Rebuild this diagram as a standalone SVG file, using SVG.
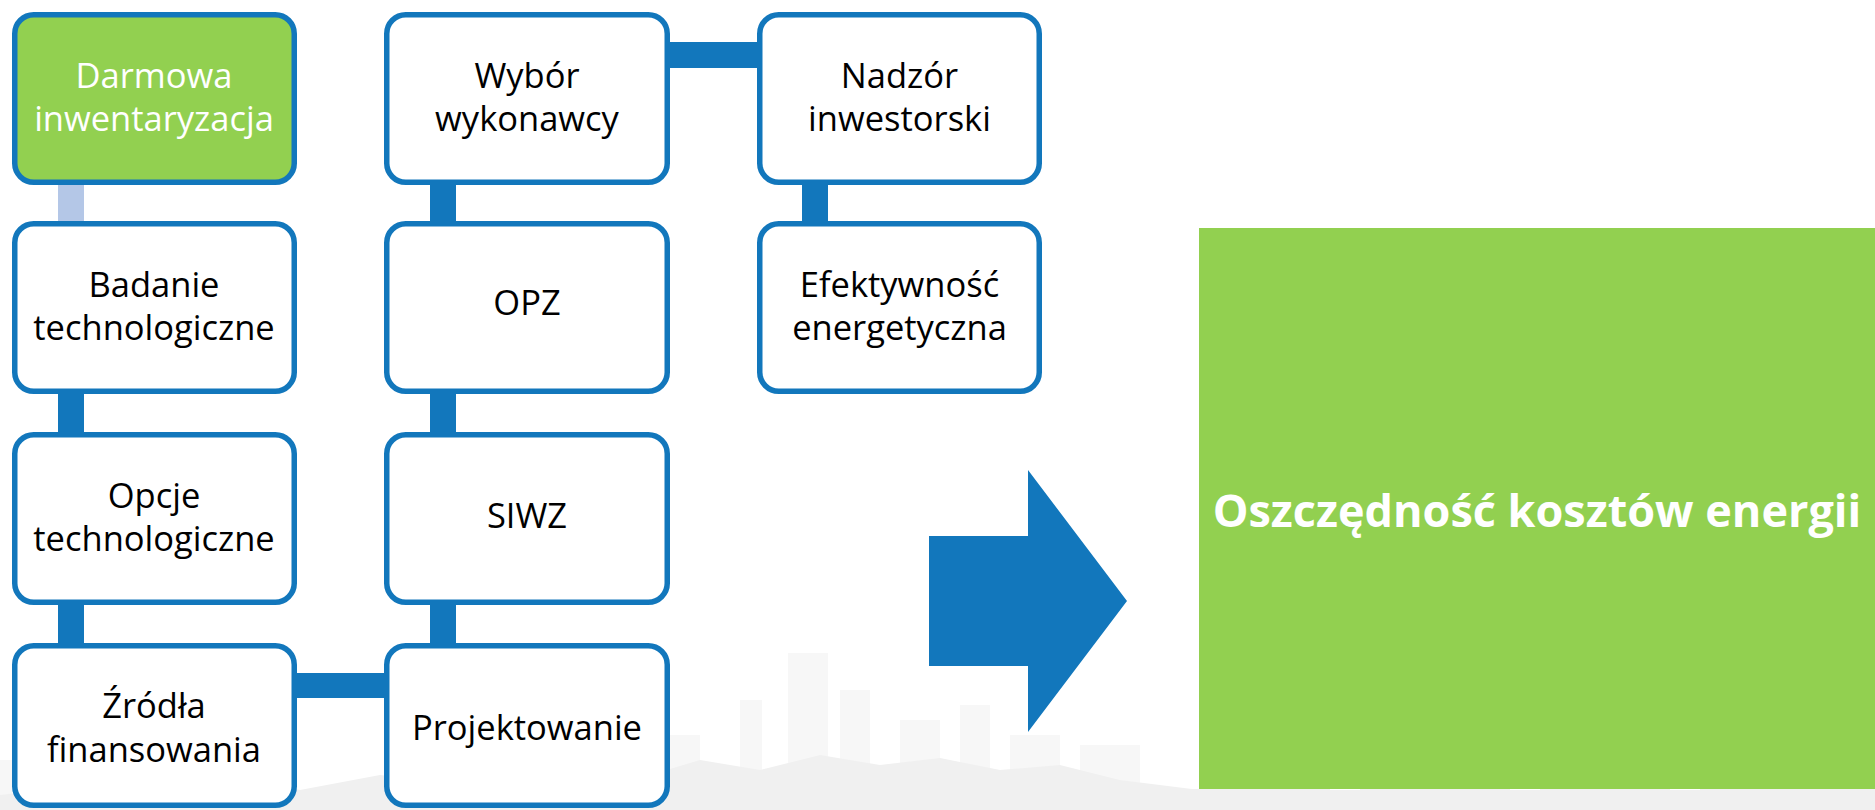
<svg xmlns="http://www.w3.org/2000/svg" width="1875" height="810" viewBox="0 0 1875 810">
<style>
.box{fill:#ffffff;stroke:#1277BC;stroke-width:5.5}
.boxg{fill:#92D050;stroke:#1277BC;stroke-width:5.5}
.t{font-family:"Open Sans","Noto Sans","Liberation Sans",sans-serif;font-size:34.5px;fill:#000;text-anchor:middle}
.tw{fill:#ffffff}
.bar{fill:#1277BC}
.sky{fill:#f0f0f0}
.sky2{fill:#f7f7f7}
</style>
<rect width="1875" height="810" fill="#ffffff"/>
<g id="skyline">
<rect class="sky2" x="740" y="700" width="22" height="110"/>
<rect class="sky2" x="788" y="653" width="40" height="157"/>
<rect class="sky2" x="840" y="690" width="30" height="120"/>
<rect class="sky2" x="900" y="720" width="40" height="90"/>
<rect class="sky2" x="960" y="705" width="30" height="105"/>
<rect class="sky2" x="1010" y="735" width="50" height="75"/>
<rect class="sky2" x="1080" y="745" width="60" height="65"/>
<rect class="sky2" x="660" y="735" width="40" height="75"/>
<rect class="sky2" x="560" y="745" width="60" height="65"/>
<rect class="sky2" x="0" y="760" width="12" height="50"/>
<polygon class="sky" points="0,795 80,785 160,792 240,780 300,790 380,775 470,785 560,770 640,778 700,760 760,770 820,755 880,765 940,758 1000,770 1060,765 1120,780 1200,790 1875,790 1875,810 0,810"/>
<rect class="sky" x="1180" y="789" width="150" height="21"/>
<rect class="sky" x="1360" y="789" width="150" height="21"/>
<rect class="sky" x="1540" y="789" width="130" height="21"/>
<rect class="sky" x="1700" y="789" width="175" height="21"/>
</g>
<g id="connectors">
<rect x="58" y="185" width="26" height="36" fill="#B4C7E7"/>
<rect class="bar" x="58" y="394" width="26" height="38"/>
<rect class="bar" x="58" y="605" width="26" height="38"/>
<rect class="bar" x="430" y="185" width="26" height="36"/>
<rect class="bar" x="430" y="394" width="26" height="38"/>
<rect class="bar" x="430" y="605" width="26" height="38"/>
<rect class="bar" x="802" y="185" width="26" height="36"/>
<rect class="bar" x="670" y="42" width="87" height="26"/>
<rect class="bar" x="297" y="673" width="87" height="25"/>
</g>
<g id="n1"><rect class="boxg" x="14.75" y="14.75" width="279.5" height="167.5" rx="19"/>
<text class="t tw" x="154" y="88">Darmowa</text><text class="t tw" x="154" y="131">inwentaryzacja</text></g>
<g id="n2"><rect class="box" x="14.75" y="223.75" width="279.5" height="167.5" rx="19"/>
<text class="t" x="154" y="297">Badanie</text><text class="t" x="154" y="340">technologiczne</text></g>
<g id="n3"><rect class="box" x="14.75" y="434.75" width="279.5" height="167.5" rx="19"/>
<text class="t" x="154" y="508">Opcje</text><text class="t" x="154" y="551">technologiczne</text></g>
<g id="n4"><rect class="box" x="14.75" y="645.75" width="279.5" height="159.5" rx="19"/>
<text class="t" x="154" y="718">Źródła</text><text class="t" x="154" y="762">finansowania</text></g>
<g id="n5"><rect class="box" x="386.75" y="14.75" width="280.5" height="167.5" rx="19"/>
<text class="t" x="527" y="88">Wybór</text><text class="t" x="527" y="131">wykonawcy</text></g>
<g id="n6"><rect class="box" x="386.75" y="223.75" width="280.5" height="167.5" rx="19"/>
<text class="t" x="527" y="315">OPZ</text></g>
<g id="n7"><rect class="box" x="386.75" y="434.75" width="280.5" height="167.5" rx="19"/>
<text class="t" x="527" y="528">SIWZ</text></g>
<g id="n8"><rect class="box" x="386.75" y="645.75" width="280.5" height="159.5" rx="19"/>
<text class="t" x="527" y="740">Projektowanie</text></g>
<g id="n9"><rect class="box" x="759.75" y="14.75" width="279.5" height="167.5" rx="19"/>
<text class="t" x="899.5" y="88">Nadzór</text><text class="t" x="899.5" y="131">inwestorski</text></g>
<g id="n10"><rect class="box" x="759.75" y="223.75" width="279.5" height="167.5" rx="19"/>
<text class="t" x="899.5" y="297">Efektywność</text><text class="t" x="899.5" y="340">energetyczna</text></g>
<g id="arrow"><polygon points="929,536 1028,536 1028,470 1127,601 1028,732 1028,666 929,666" fill="#1277BC"/></g>
<g id="result"><rect x="1199" y="228" width="676" height="561" fill="#92D050"/>
<text x="1537" y="527" font-family="'Open Sans','Noto Sans','Liberation Sans',sans-serif" font-size="45" font-weight="bold" fill="#ffffff" text-anchor="middle">Oszczędność kosztów energii</text></g>
</svg>
